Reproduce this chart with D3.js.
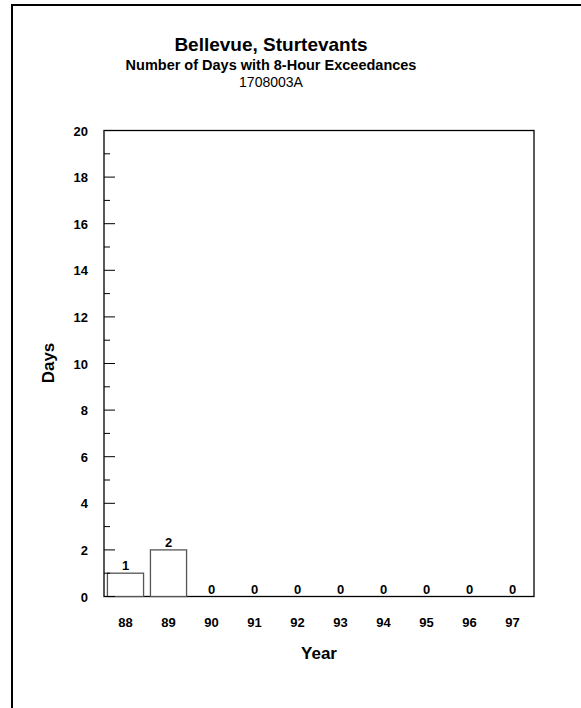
<!DOCTYPE html>
<html><head><meta charset="utf-8">
<script src="https://cdn.jsdelivr.net/npm/d3@7"></script>
<style>body{margin:0;background:#fff}svg{display:block}text{font-family:"Liberation Sans",Arial,sans-serif}</style>
</head><body>
<svg id="c" width="581" height="708"></svg>
<script>
const years = ["88","89","90","91","92","93","94","95","96","97"];
const days = [1,2,0,0,0,0,0,0,0,0];
const yTicks = [0,2,4,6,8,10,12,14,16,18,20];
const yMinor = [1,3,5,7,9,11,13,15,17,19];
const title = "Bellevue, Sturtevants";
const subtitle = "Number of Days with 8-Hour Exceedances";
const siteId = "1708003A";

const svg = d3.select("#c");
const L=104, R=534, T=130.5, B=596.5;
const CX = 271;
// outer border
svg.append("path").attr("d","M12,712 V5 H590").attr("fill","none").attr("stroke","#000").attr("stroke-width",2);

svg.append("text").attr("x",CX).attr("y",51).attr("text-anchor","middle").attr("font-size",19).attr("font-weight","bold").text(title);
svg.append("text").attr("x",CX).attr("y",69.5).attr("text-anchor","middle").attr("font-size",14.5).attr("font-weight","bold").text(subtitle);
svg.append("text").attr("x",CX).attr("y",87).attr("text-anchor","middle").attr("font-size",14).text(siteId);

const x = d3.scaleBand().domain(years).range([L,R]).paddingInner(0.16).paddingOuter(0.08);
const y = d3.scaleLinear().domain([0,20]).range([B,T]);

// plot frame
svg.append("rect").attr("x",L).attr("y",T).attr("width",R-L).attr("height",B-T).attr("fill","none").attr("stroke","#000").attr("stroke-width",1.3);

// bars
svg.selectAll("rect.bar").data(years).enter().append("rect").attr("class","bar")
  .attr("x",d=>x(d)).attr("width",x.bandwidth())
  .attr("y",(d,i)=>y(days[i])).attr("height",(d,i)=>B-y(days[i]))
  .attr("fill","#fff").attr("stroke","#555").attr("stroke-width",1.3)
  .filter((d,i)=>days[i]===0).remove();

svg.selectAll("text.val").data(years).enter().append("text").attr("class","val")
  .attr("x",d=>x(d)+x.bandwidth()/2).attr("y",(d,i)=>y(days[i])-3)
  .attr("text-anchor","middle").attr("font-size",13).attr("font-weight","bold")
  .text((d,i)=>days[i]);

// y axis ticks
svg.selectAll("line.maj").data(yTicks).enter().append("line")
  .attr("x1",L).attr("x2",L+11).attr("y1",d=>y(d)).attr("y2",d=>y(d)).attr("stroke","#000").attr("stroke-width",1);
svg.selectAll("line.min").data(yMinor).enter().append("line")
  .attr("x1",L).attr("x2",L+6).attr("y1",d=>y(d)).attr("y2",d=>y(d)).attr("stroke","#000").attr("stroke-width",1);
svg.selectAll("text.yt").data(yTicks).enter().append("text")
  .attr("x",88).attr("y",d=>y(d)+5).attr("text-anchor","end").attr("font-size",13).attr("font-weight","bold").text(d=>d);

svg.selectAll("text.xt").data(years).enter().append("text")
  .attr("x",d=>x(d)+x.bandwidth()/2).attr("y",627).attr("text-anchor","middle").attr("font-size",13).attr("font-weight","bold").text(d=>d);

svg.append("text").attr("x",(L+R)/2).attr("y",659).attr("text-anchor","middle").attr("font-size",17).attr("font-weight","bold").text("Year");
svg.append("text").attr("transform","translate(54,363) rotate(-90)").attr("text-anchor","middle").attr("font-size",17).attr("font-weight","bold").text("Days");
</script>
</body></html>
